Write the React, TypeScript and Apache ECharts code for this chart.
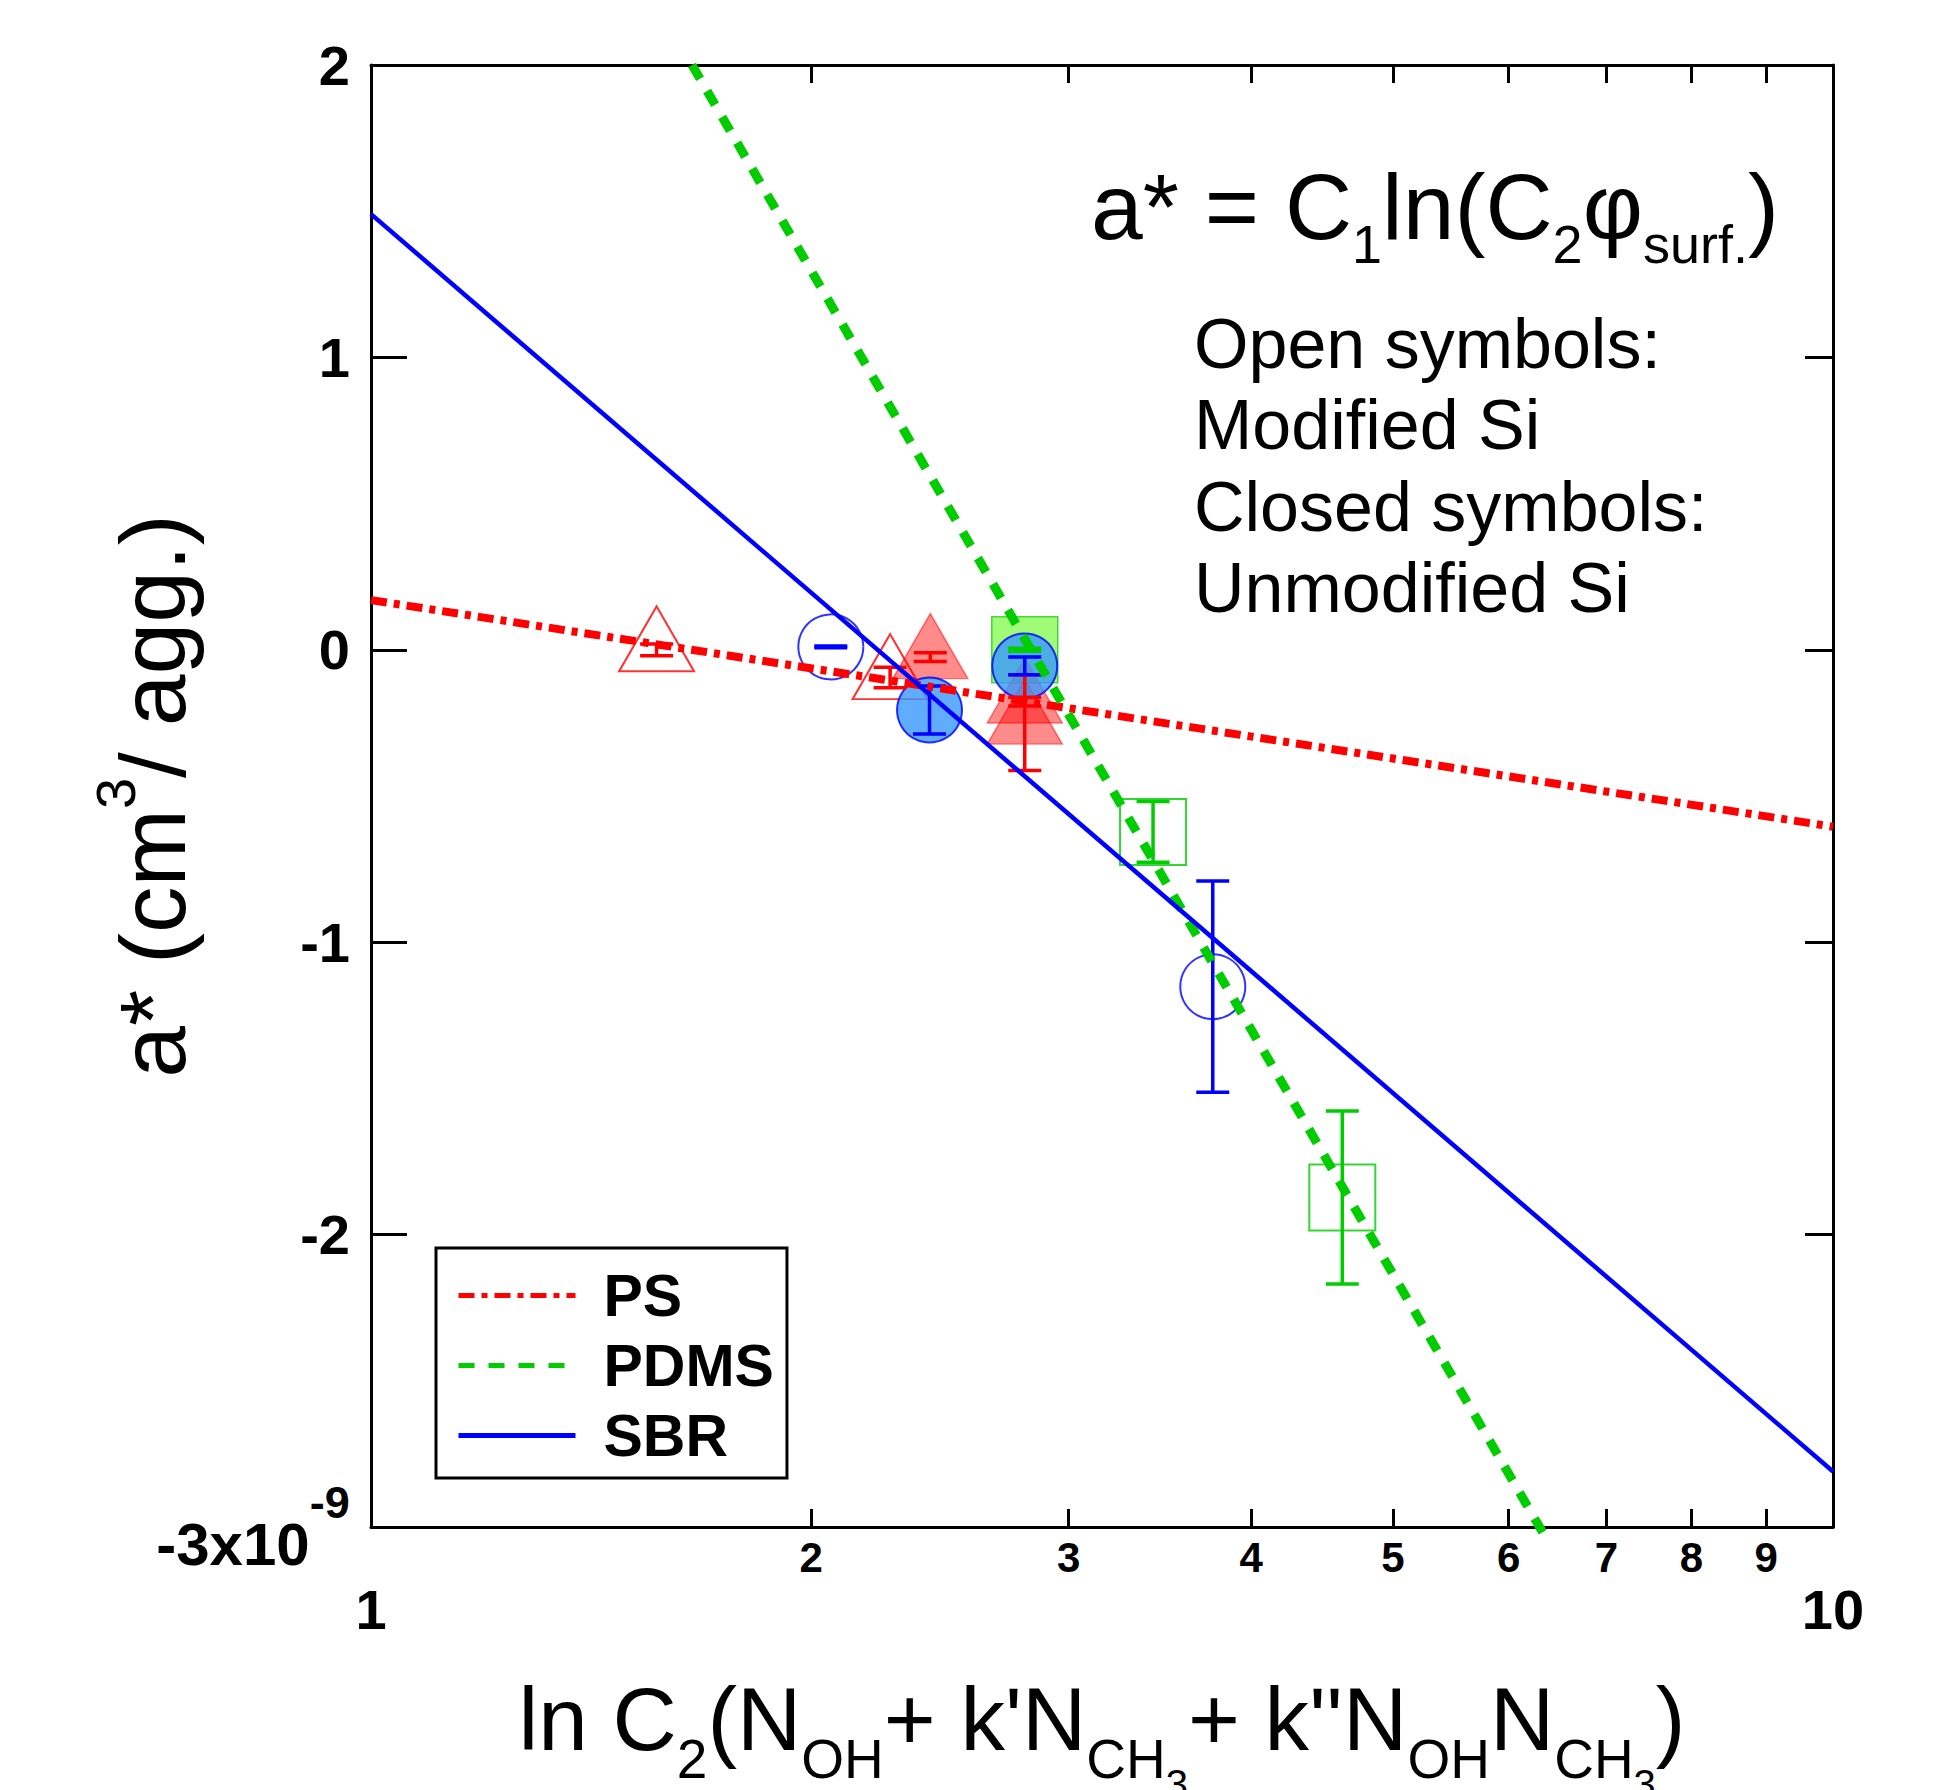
import React, { useEffect, useRef } from 'react';
import * as echarts from 'echarts';

const FONT = "'Liberation Sans', Arial, Helvetica, sans-serif";

// Fit lines (x, a*) endpoints
const psFit = [[1, 0.17], [10, -0.605]];
const pdmsFit = [[1.658, 2], [6.35, -3.03]];
const sbrFit = [[1, 1.49], [10, -2.81]];

// Data points: [x, a*, error]
const psOpen = [[1.568, 0.0, 0.02], [2.265, -0.095, 0.035]];
const psClosed = [[2.413, -0.025, 0.015], [2.8, -0.177, 0.015], [2.8, -0.249, 0.164]];
const sbrOpen = [[2.063, 0.01, 0.003], [3.765, -1.152, 0.361]];
const sbrClosed = [[2.41, -0.206, 0.082], [2.8, -0.055, 0.03]];
const pdmsOpen = [[3.427, -0.623, 0.104], [4.617, -1.873, 0.296]];
const pdmsClosed = [[2.8, 0.0, 0.005]];

// Axis ticks / labels
const xMinorTicks = [2, 3, 4, 5, 6, 7, 8, 9];
const xMajorLabels = [1, 10];
const yMin = -3;
const yMax = 2;
const yInterval = 1;

const legendNames = ['PS', 'PDMS', 'SBR'];
const noteLines = ['Open symbols:', 'Modified Si', 'Closed symbols:', 'Unmodified Si'];

const RED = '#ff0000';
const GREEN = '#00cc00';
const BLUE = '#0000ff';

function errorBars(data: number[][], color: string, z: number) {
  return {
    type: 'custom',
    data,
    z,
    silent: true,
    clip: false,
    encode: { x: 0, y: 1 },
    renderItem: (_params: any, api: any) => {
      const x = api.value(0);
      const y = api.value(1);
      const e = api.value(2);
      const top = api.coord([x, y + e]);
      const bot = api.coord([x, y - e]);
      const h = 16.5;
      const style = { stroke: color, lineWidth: 3.5 };
      return {
        type: 'group',
        children: [
          { type: 'line', shape: { x1: top[0], y1: top[1], x2: bot[0], y2: bot[1] }, style },
          { type: 'line', shape: { x1: top[0] - h, y1: top[1], x2: top[0] + h, y2: top[1] }, style },
          { type: 'line', shape: { x1: bot[0] - h, y1: bot[1], x2: bot[0] + h, y2: bot[1] }, style },
        ],
      };
    },
  };
}

function scatter(data: number[][], symbol: string, size: any, itemStyle: any, z: number, offset?: number[]) {
  return {
    type: 'scatter',
    data: data.map((d) => [d[0], d[1]]),
    symbol,
    symbolSize: size,
    symbolOffset: offset || [0, 0],
    itemStyle,
    z,
    silent: true,
  };
}

export default function App() {
  const ref = useRef<HTMLDivElement>(null);
  useEffect(() => {
    document.body.style.margin = '0';
    const chart = echarts.init(ref.current!, null, { renderer: 'svg', width: 1944, height: 1790 });
    const axisLineStyle = { color: '#000', width: 3 };
    const option: any = {
      animation: false,
      backgroundColor: '#ffffff',
      grid: { left: 371, top: 65, width: 1462, height: 1462, containLabel: false, outerBoundsMode: 'none' },
      legend: {
        data: legendNames,
        orient: 'vertical',
        left: 436,
        top: 1248,
        itemWidth: 117,
        itemHeight: 4,
        itemGap: 11,
        padding: [18, 13, 13, 20],
        borderColor: '#000',
        borderWidth: 3,
        selectedMode: false,
        itemStyle: { opacity: 0 },
        lineStyle: { width: 5 },
        textStyle: { fontSize: 59, fontWeight: 'bold', fontFamily: FONT, color: '#000', lineHeight: 59, padding: [0, 0, 0, 23] },
      },
      xAxis: [
        {
          type: 'log',
          logBase: 10,
          min: 1,
          max: 10,
          position: 'bottom',
          axisLine: { show: true, onZero: false, lineStyle: axisLineStyle },
          axisTick: { show: true, inside: true, length: 18, customValues: xMinorTicks, lineStyle: axisLineStyle },
          minorTick: { show: false },
          splitLine: { show: false },
          axisLabel: {
            show: true,
            customValues: xMinorTicks,
            margin: 9,
            fontSize: 42,
            fontWeight: 'bold',
            fontFamily: FONT,
            color: '#000',
            formatter: (v: number) => String(Math.round(v)),
          },
          name: "{m|ln C}{s|2}{m|(N}{s|OH}{m|+ k'N}{s|CH}{ss|3}{m|+ k''N}{s|OH}{m|N}{s|CH}{ss|3}{m|)}",
          nameLocation: 'middle',
          nameGap: 147,
          nameMoveOverlap: false,
          nameTextStyle: {
            rich: {
              m: { fontSize: 89, lineHeight: 89, fontFamily: FONT, color: '#000', verticalAlign: 'top' },
              s: { fontSize: 55, lineHeight: 55, fontFamily: FONT, color: '#000', verticalAlign: 'top', padding: [57, 0, 0, 0] },
              ss: { fontSize: 40, lineHeight: 40, fontFamily: FONT, color: '#000', verticalAlign: 'top', padding: [90, 0, 0, 0] },
            },
          },
        },
        {
          type: 'log',
          logBase: 10,
          min: 1,
          max: 10,
          position: 'top',
          axisLine: { show: true, onZero: false, lineStyle: axisLineStyle },
          axisTick: { show: true, inside: true, length: 18, customValues: xMinorTicks, lineStyle: axisLineStyle },
          minorTick: { show: false },
          splitLine: { show: false },
          axisLabel: { show: false },
        },
        {
          type: 'log',
          logBase: 10,
          min: 1,
          max: 10,
          position: 'bottom',
          offset: 0,
          axisLine: { show: false, onZero: false },
          axisTick: { show: false },
          minorTick: { show: false },
          splitLine: { show: false },
          axisLabel: {
            show: true,
            customValues: xMajorLabels,
            margin: 54,
            fontSize: 56,
            fontWeight: 'bold',
            fontFamily: FONT,
            color: '#000',
            formatter: (v: number) => String(Math.round(v)),
          },
        },
      ],
      yAxis: [
        {
          type: 'value',
          min: yMin,
          max: yMax,
          interval: yInterval,
          position: 'left',
          axisLine: { show: true, onZero: false, lineStyle: axisLineStyle },
          axisTick: { show: true, inside: true, length: 36, lineStyle: axisLineStyle },
          splitLine: { show: false },
          axisLabel: {
            margin: 21,
            formatter: (v: number) => (v === -3 ? '{mm|-3x10}{s|-9}{sp| }' : `{m|${v}}`),
            rich: {
              m: { fontSize: 56, fontWeight: 'bold', fontFamily: FONT, color: '#000', lineHeight: 56, verticalAlign: 'bottom' },
              mm: { fontSize: 60, fontWeight: 'bold', fontFamily: FONT, color: '#000', lineHeight: 66, verticalAlign: 'bottom' },
              s: { fontSize: 45, fontWeight: 'bold', fontFamily: FONT, color: '#000', lineHeight: 68, verticalAlign: 'top' },
              sp: { fontSize: 1, lineHeight: 94, fontFamily: FONT, color: 'rgba(0,0,0,0)', verticalAlign: 'middle' },
            },
          },
          name: '{m|a* (cm}{s|3}{m|/ agg.)}',
          nameLocation: 'middle',
          nameRotate: 90,
          nameGap: 172,
          nameMoveOverlap: false,
          nameTextStyle: {
            rich: {
              m: { fontSize: 93, lineHeight: 93, fontFamily: FONT, color: '#000', verticalAlign: 'bottom' },
              s: { fontSize: 56, lineHeight: 56, fontFamily: FONT, color: '#000', verticalAlign: 'bottom', padding: [0, 0, 56, 0] },
            },
          },
        },
        {
          type: 'value',
          min: yMin,
          max: yMax,
          interval: yInterval,
          position: 'right',
          axisLine: { show: true, onZero: false, lineStyle: axisLineStyle },
          axisTick: { show: true, inside: true, length: 28, lineStyle: axisLineStyle },
          splitLine: { show: false },
          axisLabel: { show: false },
        },
      ],
      graphic: [
        {
          type: 'text',
          x: 1091,
          y: 160,
          style: {
            text: '{m|a* = C}{s|1}{m|ln(C}{s|2}{m|φ}{s|surf.}{m|)}',
            align: 'left',
            verticalAlign: 'top',
            rich: {
              m: { fontSize: 93, lineHeight: 93, fontFamily: FONT, fill: '#000', verticalAlign: 'top' },
              s: { fontSize: 54, lineHeight: 54, fontFamily: FONT, fill: '#000', verticalAlign: 'top', padding: [57, 0, 0, 0] },
            },
          },
        },
        {
          type: 'text',
          x: 1194,
          y: 303,
          style: {
            text: noteLines.join('\n'),
            fontSize: 70,
            fontFamily: FONT,
            lineHeight: 81.5,
            fill: '#000',
            align: 'left',
            verticalAlign: 'top',
          },
        },
      ],
      series: [
        // open symbols
        scatter(psOpen, 'triangle', [75, 65], { color: 'rgba(255,255,255,0)', borderColor: RED, borderWidth: 2 }, 1, [0, -11]),
        scatter(sbrOpen, 'circle', 65, { color: 'rgba(255,255,255,0)', borderColor: BLUE, borderWidth: 2 }, 1),
        scatter(pdmsOpen, 'rect', 66, { color: 'rgba(255,255,255,0)', borderColor: GREEN, borderWidth: 2 }, 1),
        // closed symbols
        scatter(pdmsClosed, 'rect', 66, { color: '#88fb55', borderColor: '#22cc22', borderWidth: 1.5 }, 2),
        scatter(psClosed, 'triangle', [75, 65], { color: 'rgba(255,0,0,0.57)', borderColor: 'rgba(255,0,0,0.6)', borderWidth: 1.5 }, 3, [0, -11]),
        scatter(sbrClosed, 'circle', 65, { color: '#3897ff', borderColor: BLUE, borderWidth: 2 }, 4),
        // error bars
        errorBars(pdmsClosed, GREEN, 5),
        errorBars(pdmsOpen, GREEN, 5),
        errorBars(psOpen, RED, 5),
        errorBars(psClosed, RED, 5),
        errorBars(sbrClosed, BLUE, 5),
        errorBars(sbrOpen, BLUE, 5),
        // fit lines
        {
          type: 'line',
          name: 'PS',
          data: psFit,
          symbol: 'none',
          color: RED,
          lineStyle: { color: RED, width: 8, type: [16, 7, 6, 7] },
          z: 6,
          silent: true,
          clip: false,
        },
        {
          type: 'line',
          name: 'PDMS',
          data: pdmsFit,
          symbol: 'none',
          color: GREEN,
          lineStyle: { color: GREEN, width: 9, type: [16, 14] },
          z: 6,
          silent: true,
          clip: false,
        },
        {
          type: 'line',
          name: 'SBR',
          data: sbrFit,
          symbol: 'none',
          color: BLUE,
          lineStyle: { color: BLUE, width: 4.5, type: 'solid' },
          z: 6,
          silent: true,
          clip: false,
        },
      ],
    };
    chart.setOption(option);
    return () => chart.dispose();
  }, []);
  return <div ref={ref} style={{ width: 1944, height: 1790 }} />;
}
